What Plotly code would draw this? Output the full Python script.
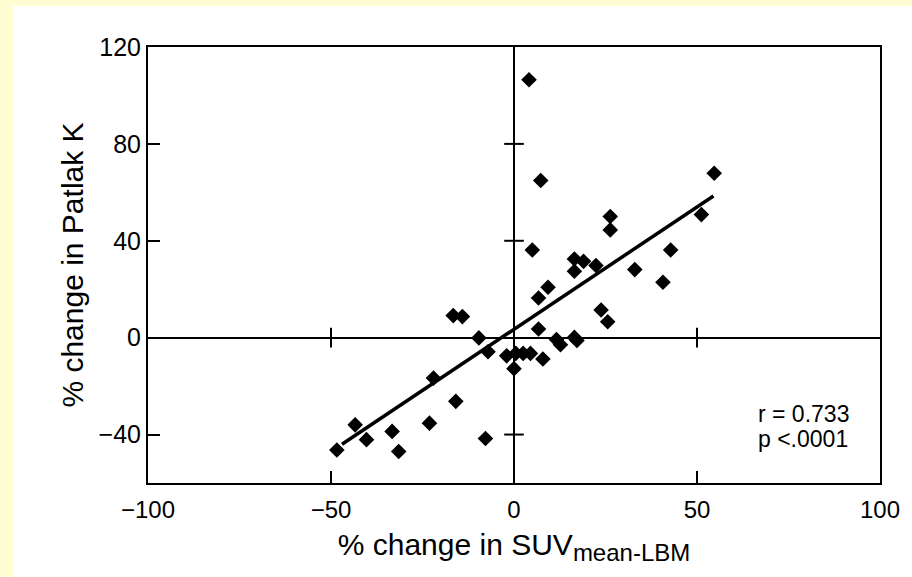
import plotly.graph_objects as go

# Data
suv_change = [4.1, 7.3, 54.7, 51.2, 26.3, 26.3, 5.0, 42.8, 16.5, 19.0,
              16.5, 22.4, 33.0, 40.7, 9.3, 6.7, 23.8, 25.6, 6.7, 11.6,
              12.7, 16.5, 17.2, 7.9, -2.0, 0.5, 2.5, 4.5, 0.0, -16.6,
              -14.1, -9.6, -7.1, -22.0, -15.9, -23.1, -7.8, -43.4, -40.3, -33.3,
              -31.5, -48.4]
patlak_change = [106.5, 64.9, 67.9, 50.8, 50.0, 44.5, 36.2, 36.2, 32.5, 31.5,
                 27.4, 29.8, 28.1, 22.9, 20.8, 16.4, 11.4, 6.6, 3.6, -0.8,
                 -2.9, 0.1, -1.2, -8.8, -7.5, -6.5, -6.5, -6.5, -12.8, 9.1,
                 8.7, -0.1, -5.8, -16.7, -26.3, -35.3, -41.6, -36.0, -42.1, -38.7,
                 -47.0, -46.4]
fit_x = [-47.0, 54.5]
fit_y = [-44.0, 58.5]

x_ticks = [-100, -50, 0, 50, 100]
y_ticks = [-40, 0, 40, 80, 120]
cross_y = [-40, 40, 80]   # ticks drawn across the vertical zero line
cross_x = [-50, 50]       # ticks drawn across the horizontal zero line

FONT = "Liberation Sans, Arial, Helvetica, sans-serif"

fig = go.Figure()

fig.add_trace(go.Scatter(
    x=fit_x, y=fit_y, mode="lines",
    line=dict(color="black", width=3.5), hoverinfo="skip", showlegend=False))

fig.add_trace(go.Scatter(
    x=suv_change, y=patlak_change, mode="markers",
    marker=dict(symbol="diamond", size=12, color="black", line=dict(width=0)),
    showlegend=False))

# Cross ticks on the zero lines
fig.add_trace(go.Scatter(
    x=[0] * len(cross_y), y=cross_y, mode="markers",
    marker=dict(symbol="line-ew", size=14, line=dict(color="black", width=2)),
    hoverinfo="skip", showlegend=False))
fig.add_trace(go.Scatter(
    x=cross_x, y=[0] * len(cross_x), mode="markers",
    marker=dict(symbol="line-ns", size=14, line=dict(color="black", width=2)),
    hoverinfo="skip", showlegend=False))

axis_common = dict(
    showgrid=False, showline=True, mirror=True, linecolor="black", linewidth=2,
    ticks="inside", ticklen=12, tickwidth=2, tickcolor="black",
    zeroline=True, zerolinecolor="black", zerolinewidth=2,
)

fig.update_xaxes(
    range=[-100, 100], tickvals=x_ticks, ticklabelstandoff=4,
    tickfont=dict(family=FONT, size=24, color="black"),
    title=dict(text="% change in SUV<sub><span style='font-size:24px'>mean-LBM</span></sub>",
               font=dict(family=FONT, size=30, color="black"), standoff=12),
    **axis_common)
fig.update_yaxes(
    range=[-60, 120], tickvals=y_ticks, ticklabelstandoff=0,
    tickfont=dict(family=FONT, size=25, color="black"),
    title=dict(text="% change in Patlak K",
               font=dict(family=FONT, size=30, color="black"), standoff=6),
    **axis_common)

fig.add_annotation(x=66, y=-31.6, xref="x", yref="y", text="r = 0.733",
                   showarrow=False, xanchor="left", yanchor="middle",
                   font=dict(family=FONT, size=23, color="black"))
fig.add_annotation(x=66, y=-41.7, xref="x", yref="y", text="p <.0001",
                   showarrow=False, xanchor="left", yanchor="middle",
                   font=dict(family=FONT, size=23, color="black"))

# White card on a pale yellow page
fig.add_shape(type="rect", xref="paper", yref="paper", layer="below",
              x0=(12 - 148) / 739, x1=1.2, y0=-0.4, y1=(483 - 6) / 436,
              fillcolor="white", line=dict(width=0))

fig.update_layout(
    width=912, height=577,
    margin=dict(l=148, r=25, t=47, b=94, pad=0),
    paper_bgcolor="#FFFDD2", plot_bgcolor="white",
    font=dict(family=FONT, color="black"),
    showlegend=False,
)

fig.write_html("out.html")
